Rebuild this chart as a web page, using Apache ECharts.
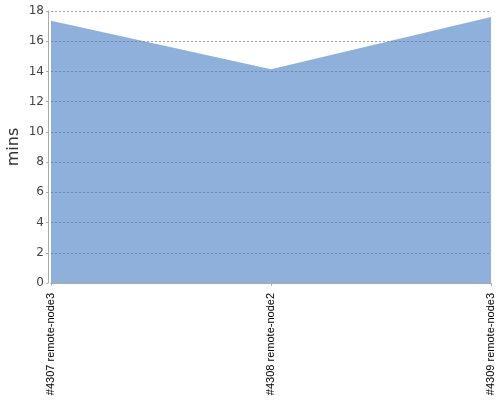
<!DOCTYPE html>
<html>
<head>
<meta charset="utf-8">
<script src="https://cdn.jsdelivr.net/npm/echarts@6/dist/echarts.min.js"></script>
<style>
  html, body { margin: 0; padding: 0; background: #fff; }
  #chart { width: 500px; height: 400px; }
</style>
</head>
<body>
<div id="chart"></div>
<script>
const builds = ['#4307 remote-node3', '#4308 remote-node2', '#4309 remote-node3']
const durations = [17.35, 14.15, 17.6]
const yTicks = { min: 0, max: 18, step: 2 }

const myChart = echarts.init(document.getElementById('chart'))
myChart.setOption({
  backgroundColor: '#fff',
  animation: false,
  grid: { left: 51, right: 9, top: 11, bottom: 117, outerBoundsMode: 'none', containLabel: false },
  xAxis: {
    type: 'category',
    data: builds,
    boundaryGap: false,
    offset: 3,
    axisLine: { show: true, lineStyle: { color: '#aaa', width: 1 } },
    axisTick: { show: true, alignWithLabel: true, length: 3, lineStyle: { color: '#aaa' } },
    axisLabel: {
      rotate: 90,
      fontSize: 11,
      fontFamily: 'Liberation Sans',
      color: '#000',
      margin: 7,
      interval: 0
    },
    splitLine: { show: false }
  },
  yAxis: {
    type: 'value',
    min: yTicks.min,
    max: yTicks.max,
    interval: yTicks.step,
    offset: 3,
    name: 'mins',
    nameLocation: 'middle',
    nameGap: 26,
    nameMoveOverlap: false,
    nameTextStyle: { fontSize: 16, color: '#333', fontFamily: 'DejaVu Sans' },
    axisLine: { show: true, lineStyle: { color: '#aaa', width: 1 } },
    axisTick: { show: true, length: 2, lineStyle: { color: '#aaa' } },
    axisLabel: { fontSize: 12, color: '#444', fontFamily: 'DejaVu Sans', margin: 4 },
    splitLine: { show: true, lineStyle: { color: 'rgba(0,0,0,0.38)', type: [2, 2], width: 1 } }
  },
  series: [{
    type: 'line',
    data: durations,
    symbol: 'none',
    lineStyle: { width: 0 },
    areaStyle: { color: 'rgb(67,123,193)', opacity: 0.6 }
  }]
})
</script>
</body>
</html>
